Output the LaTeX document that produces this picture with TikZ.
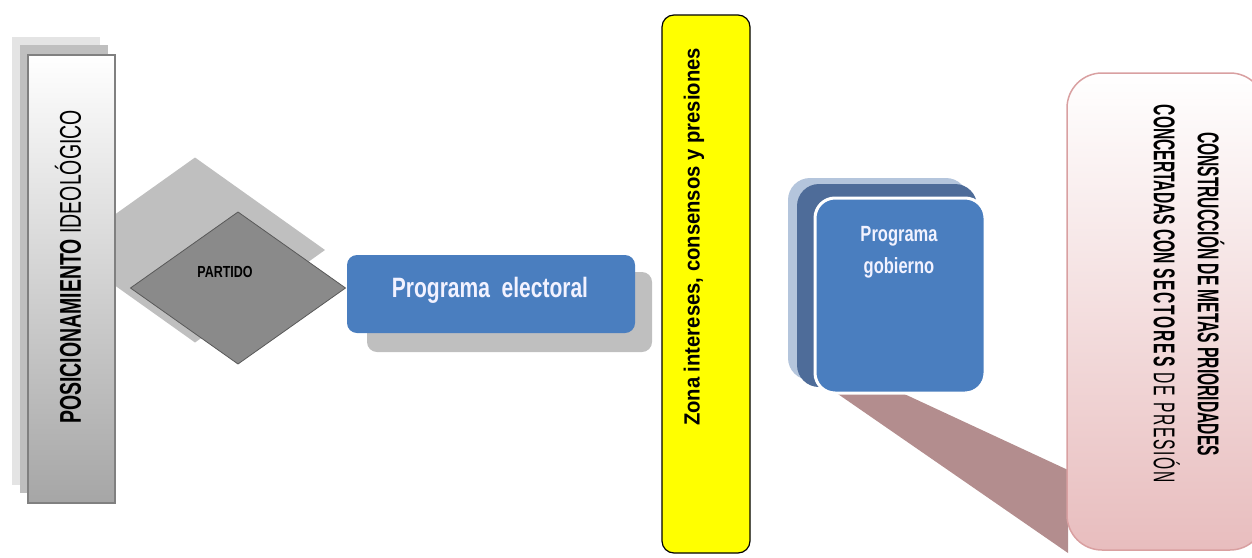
\documentclass[tikz,border=0pt]{standalone}
\usepackage{fontspec}
\setmainfont{Liberation Sans}
\newfontfamily\posfont[FakeStretch=0.65]{Liberation Sans}
\newfontfamily\partfont[FakeStretch=0.78]{Liberation Sans}
\newfontfamily\progfont[FakeStretch=0.75]{Liberation Sans}
\newfontfamily\zonafont[FakeStretch=0.92]{Liberation Sans}
\newfontfamily\metasfont[FakeStretch=0.52]{Liberation Sans}
\newfontfamily\metasspaced[FakeStretch=0.52,LetterSpace=6]{Liberation Sans}
\usetikzlibrary{shapes.geometric,positioning}

\definecolor{boxblue}{HTML}{4A7EBF}
\definecolor{shadowgray}{HTML}{BFBFBF}
\definecolor{palegray}{HTML}{E4E4E4}
\definecolor{diagray}{HTML}{8A8A8A}
\definecolor{rosebeam}{HTML}{B38D8E}
\definecolor{pinkfill}{HTML}{E8BDBE}
\definecolor{pinkline}{HTML}{D9A0A1}
\definecolor{steellight}{HTML}{B4C5DC}
\definecolor{steeldark}{HTML}{4E6C99}
\definecolor{zonayellow}{HTML}{FFFF00}

\tikzset{
  flatbox/.style={inner sep=0pt, outer sep=0pt, draw=none},
  label text/.style={inner sep=0pt, text=black},
}

\begin{document}
\begin{tikzpicture}[x=1pt,y=-1pt]
        \useasboundingbox (0,0) rectangle (1252,557);
        % shadow of the party diamond (behind the position box)
        \node[flatbox, diamond, fill=shadowgray, minimum width=260pt, minimum height=185pt] (partyshadow) at (195,250) {};
        % ideological position: shadows and box
        \node[flatbox, fill=palegray, minimum width=88pt, minimum height=448pt] (posshadowB) at (56,261) {};
        \node[flatbox, fill=shadowgray, minimum width=88pt, minimum height=448pt] (posshadowA) at (64,269) {};
        \node[flatbox, draw=gray, line width=1.2pt, top color=white, middle color=gray!25, bottom color=gray!70,
              minimum width=87pt, minimum height=448pt] (posbox) at (71.5,279) {};
        \node[label text, rotate=90, font=\posfont\fontsize{30}{36}\selectfont] (postext) at (68,267)
            {\bfseries POSICIONAMIENTO \mdseries IDEOLÓGICO};
        % party diamond
        \node[flatbox, diamond, fill=diagray, draw=black!65, line width=0.8pt,
              minimum width=215pt, minimum height=152pt] (party) at (238,288) {};
        \node[label text, font=\partfont\bfseries\fontsize{16}{18}\selectfont] (partytext) at (225,272) {PARTIDO};
        % electoral programme
        \node[flatbox, fill=shadowgray, rounded corners=10pt, minimum width=285pt, minimum height=80pt] (electshadow) at (509.5,312) {};
        \node[flatbox, fill=boxblue, rounded corners=10pt, minimum width=288pt, minimum height=78pt] (elect) at (491,294) {};
        \node[label text, text=blue!5, font=\progfont\bfseries\fontsize{28}{32}\selectfont] (electtext) at (490,290) {Programa~ electoral};
        % zone of interests
        \node[flatbox, fill=zonayellow, draw=black, line width=1.2pt, rounded corners=12pt,
              minimum width=88pt, minimum height=538pt] (zona) at (706,284) {};
        \node[label text, rotate=90, font=\zonafont\bfseries\fontsize{22}{24}\selectfont] (zonatext) at (694,237)
            {Zona intereses, consensos y presiones};
        % beam towards the goals box
        \fill[rosebeam] (835,392) -- (900,392) -- (1068,470) -- (1068,553) -- cycle;
        % government programme, stacked
        \node[flatbox, fill=steellight, rounded corners=22pt, minimum width=180pt, minimum height=202pt] (govback) at (878,279) {};
        \node[flatbox, fill=steeldark, rounded corners=22pt, minimum width=180pt, minimum height=203pt] (govmid) at (887,285.5) {};
        \node[flatbox, fill=boxblue, draw=white, line width=3pt, rounded corners=20pt,
              minimum width=170pt, minimum height=195pt] (gov) at (900,295.5) {};
        \node[label text, text=blue!5, align=center, font=\progfont\bfseries\fontsize{22}{32}\selectfont] (govtext) at (899,252)
            {Programa\\gobierno};
        % goals and priorities
        \node[flatbox, draw=pinkline, line width=1.5pt, top color=white, bottom color=pinkfill, rounded corners=35pt,
              minimum width=198pt, minimum height=477pt] (metas) at (1166,311.5) {};
        \node[label text, rotate=-90, align=center, font=\metasfont\fontsize{30}{44}\selectfont] (metastext) at (1189,294)
            {\bfseries CONSTRUCCIÓN DE METAS PRIORIDADES\\
             \bfseries CONCERTADAS CON {\metasspaced\bfseries SECTORES \mdseries DE PRESIÓN}};
    \end{tikzpicture}
\end{document}
